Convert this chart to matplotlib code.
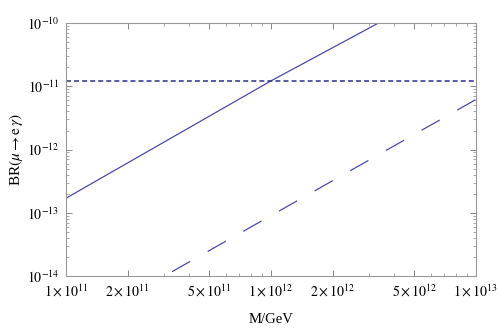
import numpy as np
import matplotlib
matplotlib.use("Agg")
import matplotlib.pyplot as plt
from matplotlib.ticker import FixedLocator, FixedFormatter, NullFormatter

plt.rcParams.update({
    "font.family": "serif", "font.serif": ["Liberation Serif", "DejaVu Serif"],
    "mathtext.fontset": "stix", "font.size": 10,
    "lines.scale_dashes": False,
})

# data
M_solid = [1e11, 1e12, 3.34e12, 1e13]
BR_solid = [1.7e-13, 1.22e-11, 1e-10, 6.8e-10]

BR_limit = 1.22e-11

M_dashed = [3.29e11, 1e13]
BR_dashed = [1.17e-14, 6.2e-12]

x_ticks = [1e11, 2e11, 5e11, 1e12, 2e12, 5e12, 1e13]
x_labels = [r"$1\times10^{11}$", r"$2\times10^{11}$", r"$5\times10^{11}$",
            r"$1\times10^{12}$", r"$2\times10^{12}$", r"$5\times10^{12}$",
            r"$1\times10^{13}$"]
y_ticks = [1e-14, 1e-13, 1e-12, 1e-11, 1e-10]
y_labels = [r"$10^{-14}$", r"$10^{-13}$", r"$10^{-12}$", r"$10^{-11}$", r"$10^{-10}$"]

fig = plt.figure(figsize=(5, 3.3), dpi=100)
ax = fig.add_axes([0.132, 0.1636, 0.82, 0.7664])

ax.plot(M_solid, BR_solid, color="#4B4BA8", lw=0.9)
ax.axhline(BR_limit, color="#2F2F8F", lw=1.1, dashes=(3.6, 2.2))
ax.plot(M_dashed, BR_dashed, color="#4B4BA8", lw=0.9, dashes=(15, 14.5))

ax.set_xscale("log"); ax.set_yscale("log")
ax.set_xlim(1e11, 1e13); ax.set_ylim(1e-14, 1e-10)

ax.xaxis.set_major_locator(FixedLocator(x_ticks))
ax.xaxis.set_major_formatter(FixedFormatter(x_labels))
x_minor = [k * 10.0**e for e in (11, 12) for k in (3, 4, 6, 7, 8, 9)]
ax.xaxis.set_minor_locator(FixedLocator(x_minor))
ax.xaxis.set_minor_formatter(NullFormatter())

ax.yaxis.set_major_locator(FixedLocator(y_ticks))
ax.yaxis.set_major_formatter(FixedFormatter(y_labels))
y_minor = [k * 10.0**e for e in range(-14, -10) for k in range(2, 10)]
ax.yaxis.set_minor_locator(FixedLocator(y_minor))
ax.yaxis.set_minor_formatter(NullFormatter())

ax.tick_params(which="both", direction="in", top=True, right=True,
               color="#888888", labelsize=10, pad=5)
ax.tick_params(which="major", length=4.5, width=0.7)
ax.tick_params(which="minor", length=2.2, width=0.5)
for s in ax.spines.values():
    s.set_color("#999999"); s.set_linewidth(0.8)

ax.set_xlabel("M/GeV", fontsize=10.5, labelpad=10)
ax.set_ylabel(r"BR$(\mu\rightarrow \mathrm{e}\,\gamma)$", fontsize=11, labelpad=1)

fig.savefig("out.png", dpi=100)
